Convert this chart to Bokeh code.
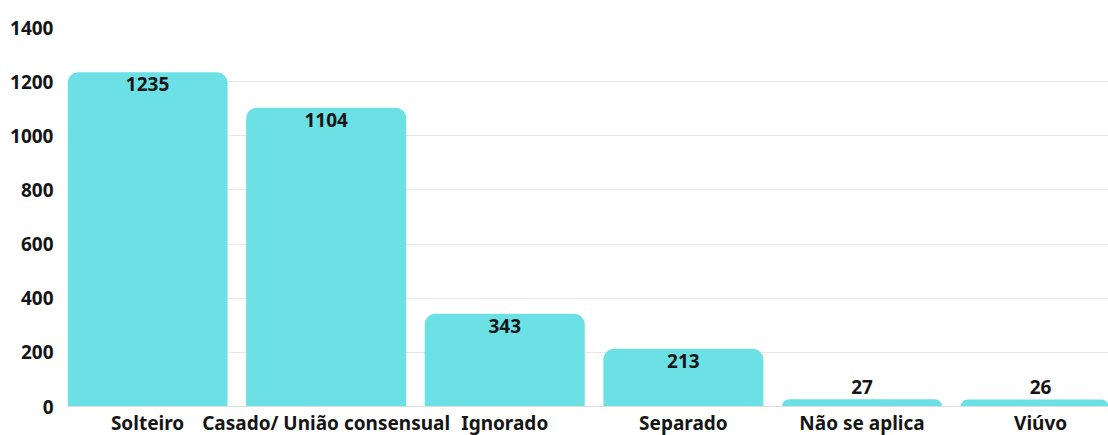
from bokeh.plotting import figure
from bokeh.models import ColumnDataSource, Range1d, FixedTicker, LabelSet, Span
from bokeh.core.properties import value
from bokeh.embed import file_html
from bokeh.resources import INLINE

categories = ["Solteiro", "Casado/ União consensual", "Ignorado", "Separado", "Não se aplica", "Viúvo"]
values = [1235, 1104, 343, 213, 27, 26]
y_ticks = [0, 200, 400, 600, 800, 1000, 1200, 1400]

FONT = "Noto Sans"
BAR = "#6be1e5"
TXT = "#151515"
FS = "19px"

xs = list(range(len(categories)))
inside = [v > 100 for v in values]
src = ColumnDataSource(dict(
    x=xs, top=values, base=[0] * len(xs), cat=categories,
    lab=[str(v) for v in values],
    off=[-12 if i else 12 for i in inside],
))

# the frame extends below zero so that the category names sit inside it
p = figure(width=1108, height=435, output_backend="svg", toolbar_location=None,
           x_range=Range1d(-0.448, 5.38), y_range=Range1d(-107, 1400),
           min_border_left=67, min_border_right=0, min_border_top=27, min_border_bottom=0)
p.outline_line_color = None
p.background_fill_color = "white"
p.border_fill_color = "white"

p.vbar(x="x", top="top", bottom="base", width=0.896, source=src, color=BAR, line_color=None,
       border_radius=(11, 11, 0, 0))

p.add_layout(Span(location=0, dimension="width", line_color="#dcdcdc", line_width=1))

labels = LabelSet(x="x", y="top", text="lab", y_offset="off", source=src,
                  text_align="center", text_baseline="middle",
                  text_font=value(FONT), text_font_style="bold", text_font_size=FS,
                  text_color=TXT)
p.add_layout(labels)

cat_labels = LabelSet(x="x", y="base", text="cat", y_offset=-16, source=src,
                      text_align="center", text_baseline="middle",
                      text_font=value(FONT), text_font_style="bold", text_font_size=FS,
                      text_color=TXT)
p.add_layout(cat_labels)

p.xaxis.visible = False
p.yaxis.ticker = FixedTicker(ticks=y_ticks)
ax = p.yaxis[0]
ax.major_tick_line_color = None
ax.minor_tick_line_color = None
ax.major_tick_out = 0
ax.major_tick_in = 0
ax.major_label_text_font = FONT
ax.major_label_text_font_style = "bold"
ax.major_label_text_font_size = FS
ax.major_label_text_color = TXT
ax.axis_line_color = None
ax.major_label_standoff = 14
p.xgrid.grid_line_color = None
p.ygrid.grid_line_color = "#e8e8e8"
p.ygrid.level = "underlay"

open("out.html", "w").write(file_html(p, INLINE))
